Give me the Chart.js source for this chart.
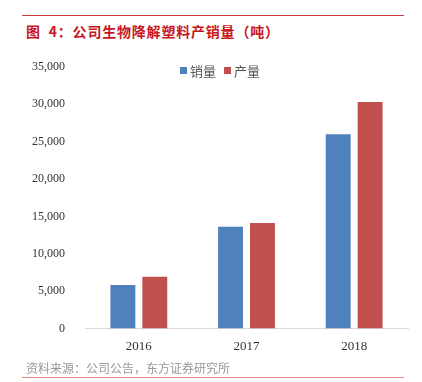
<!DOCTYPE html>
<html lang="zh">
<head>
  <meta charset="UTF-8">
  <title>公司生物降解塑料产销量</title>
  <script src="https://cdn.jsdelivr.net/npm/chart.js"></script>
  <style>
    body { margin: 0; background: #fff; }
    #wrap { position: relative; width: 422px; height: 382px; overflow: hidden; }
    #chart { position: absolute; left: 0; top: 0; }
    .line { position: absolute; left: 22px; width: 382px; height: 1px; }
    #title { position: absolute; left: 26px; top: 21px; color: #C8161D; font: bold 14px "Noto Sans CJK SC", sans-serif; letter-spacing: 0.8px; }
    #source { position: absolute; left: 26px; top: 359px; color: #999; font: 12px "Noto Sans CJK SC", sans-serif; }
    #legend { position: absolute; left: 180px; top: 61px; font: 13px "Noto Sans CJK SC", sans-serif; color: #555; }
    #legend span.box { display: inline-block; width: 7px; height: 7px; margin-right: 3px; vertical-align: 2px; }
    #legend span.item { margin-right: 8px; }
  </style>
</head>
<body>
<div id="wrap">
  <div class="line" style="top:15px;background:#D03A3A"></div>
  <div id="title">图&nbsp;&nbsp;4：公司生物降解塑料产销量（吨）</div>
  <canvas id="chart" width="422" height="382"></canvas>
  <div id="legend"></div>
  <div id="source">资料来源：公司公告，东方证券研究所</div>
  <div class="line" style="top:377px;background:#E88A8A"></div>
</div>
<script>
  // 数据
  var years = ['2016', '2017', '2018'];
  var sales = [5800, 13600, 26000];      // 销量
  var output = [6900, 14100, 30300];     // 产量
  var seriesNames = ['销量', '产量'];
  var seriesColors = ['#4F81BD', '#C0504D'];

  var ctx = document.getElementById('chart').getContext('2d');
  var chart = new Chart(ctx, {
    type: 'bar',
    data: {
      labels: years,
      datasets: [
        { label: seriesNames[0], data: sales, backgroundColor: seriesColors[0] },
        { label: seriesNames[1], data: output, backgroundColor: seriesColors[1] }
      ]
    },
    options: {
      responsive: false,
      animation: false,
      layout: { padding: { top: 67, left: 20, right: 14, bottom: 26 } },
      plugins: { legend: { display: false }, tooltip: { enabled: false } },
      datasets: { bar: { categoryPercentage: 0.593, barPercentage: 0.78 } },
      scales: {
        x: {
          grid: { display: false },
          border: { display: true, color: '#D9D9D9', width: 1 },
          ticks: { color: '#333', padding: 2, font: { family: 'Liberation Serif', size: 13 } }
        },
        y: {
          min: 0, max: 35000,
          grid: { display: false },
          border: { display: false },
          ticks: {
            stepSize: 5000, color: '#333', padding: 12,
            font: { family: 'Liberation Serif', size: 12 },
            callback: function(v) { return v.toLocaleString('en-US'); }
          }
        }
      }
    }
  });

  // 图例
  var legend = document.getElementById('legend');
  seriesNames.forEach(function(name, i) {
    legend.innerHTML += '<span class="item"><span class="box" style="background:' + seriesColors[i] + '"></span>' + name + '</span>';
  });
</script>
</body>
</html>
